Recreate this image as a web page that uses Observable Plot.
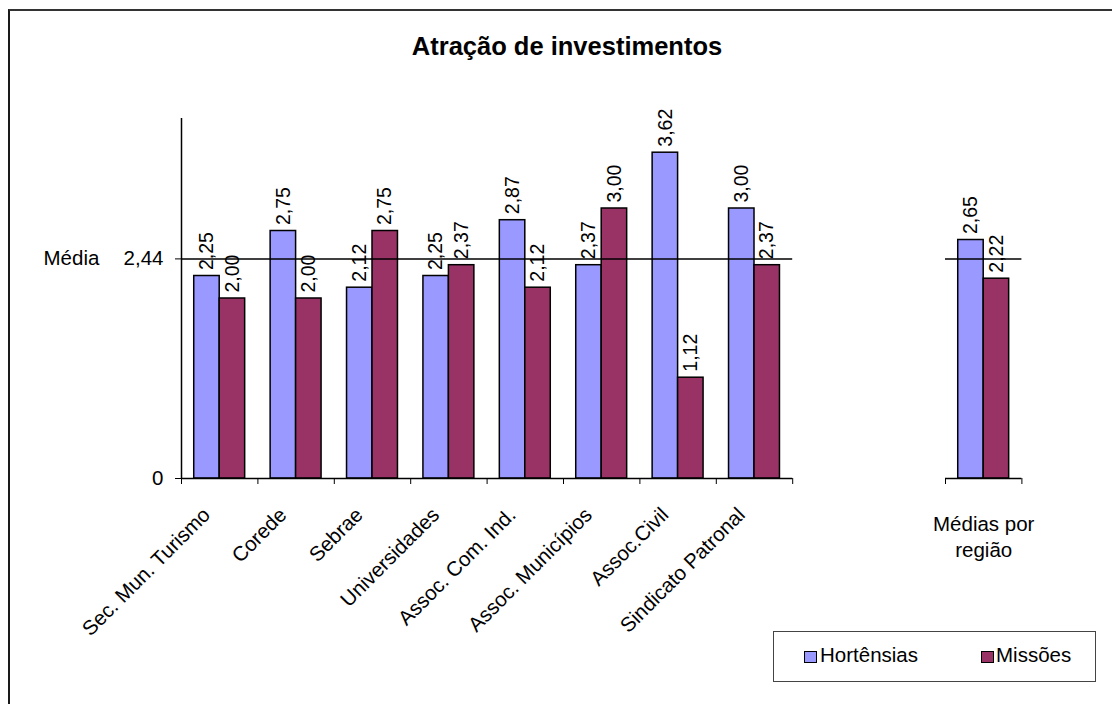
<!DOCTYPE html>
<html>
<head>
<meta charset="utf-8">
<script src="https://cdn.jsdelivr.net/npm/d3@7"></script>
<script src="https://cdn.jsdelivr.net/npm/@observablehq/plot@0.6"></script>
<style>
  html, body { margin: 0; padding: 0; background: #fff; }
  body { font-family: Arial, "Liberation Sans", sans-serif; color: #000; }
  #wrap { position: relative; width: 1112px; height: 704px; overflow: hidden; }
  #chart { position: absolute; left: 0; top: 0; }
  #frame { position: absolute; left: 8px; top: 9px; width: 1300px; height: 900px;
           border-top: 2px solid #333; border-left: 2px solid #1a1a1a; box-sizing: border-box; }
  #title { position: absolute; left: 0; top: 32px; width: 1134px; text-align: center;
           font-weight: bold; font-size: 25.5px; white-space: nowrap; }
  #legend { position: absolute; left: 773px; top: 631px; width: 323px; height: 51px;
            box-sizing: border-box; border: 1.5px solid #444; background: #fff; }
  .sw { position: absolute; width: 13px; height: 12px; box-sizing: border-box; border: 1px solid #000; }
  .lt { position: absolute; font-size: 20.5px; line-height: 20px; white-space: nowrap; }
</style>
</head>
<body>
<div id="wrap">
  <div id="chart"></div>
  <div id="frame"></div>
  <div id="title"></div>
  <div id="legend"></div>
</div>
<script>
// ---- data ----
const chartTitle = "Atração de investimentos";
const categories = ["Sec. Mun. Turismo", "Corede", "Sebrae", "Universidades", "Assoc. Com. Ind.",
                    "Assoc. Municípios", "Assoc.Civil", "Sindicato Patronal", "Médias por região"];
const hortensias = [2.25, 2.75, 2.12, 2.25, 2.87, 2.37, 3.62, 3.00, 2.65];
const missoes    = [2.00, 2.00, 2.75, 2.37, 2.12, 3.00, 1.12, 2.37, 2.22];
const seriesNames = ["Hortênsias", "Missões"];
const seriesColors = ["#9999ff", "#993366"];
const mediaLabel = "Média";
const media = 2.44;
const yTicks = [0, media];

// ---- layout ----
const W = 1112, H = 704;
const nLeft = 8;          // categories in the left panel
const gapSlots = 2;       // empty slots between panels
const nSlots = nLeft + gapSlots + 1;
const slotOf = i => i < nLeft ? i : i + gapSlots;
const fmt = v => v === 0 ? "0" : v.toFixed(2).replace(".", ",");

const rows = categories.flatMap((c, i) => seriesNames.map((s, k) => ({
  cat: c, i, slot: slotOf(i), series: s, k, value: (k === 0 ? hortensias : missoes)[i]
})));
const catRows = categories.map((c, i) => ({cat: c, i, slot: slotOf(i)}));
const panels = [{x1: 0, x2: nLeft}, {x1: nLeft + gapSlots, x2: nSlots}];
const boundaries = [...d3.range(0, nLeft + 1), nLeft + gapSlots, nSlots];

const chart = Plot.plot({
  width: W, height: H,
  marginLeft: 181, marginRight: W - 181 - nSlots * 76.4, marginTop: 118, marginBottom: 226,
  style: {fontFamily: 'Arial, "Liberation Sans", sans-serif', fontSize: "20.5px", background: "transparent", color: "#000"},
  x: {domain: [0, nSlots], ticks: boundaries, tickFormat: () => "", tickSize: 6, label: null},
  y: {domain: [0, 4], ticks: yTicks, tickFormat: fmt, tickSize: 6, tickPadding: 12, label: null},
  color: {domain: seriesNames, range: seriesColors},
  marks: [
    Plot.rect(rows, {
      x1: d => d.slot + 1/6 + d.k / 3,
      x2: d => d.slot + 1/6 + (d.k + 1) / 3,
      y1: 0, y2: "value", fill: "series", stroke: "#000", strokeWidth: 1.5
    }),
    Plot.ruleY(panels, {x1: "x1", x2: "x2", y: media, stroke: "#000", strokeWidth: 1.5}),
    Plot.ruleY(panels, {x1: "x1", x2: "x2", y: 0, stroke: "#000", strokeWidth: 1.5}),
    Plot.ruleX([0], {y1: 0, y2: 4, stroke: "#000", strokeWidth: 1.5}),
    Plot.text(rows, {
      x: d => d.slot + 1/3 + d.k / 3, y: "value", text: d => fmt(d.value),
      rotate: -90, textAnchor: "start", dy: -6, fill: "#000", fontSize: 19.5
    }),
    Plot.text([media], {y: d => d, text: () => mediaLabel, frameAnchor: "left", textAnchor: "start", dx: -138, fill: "#000"}),
    Plot.text(catRows.filter(d => d.i < nLeft), {
      x: d => d.slot + 0.5, y: 0, text: "cat", rotate: -45, textAnchor: "end", dx: -13, dy: 33, fill: "#000"
    }),
    Plot.text(catRows.filter(d => d.i >= nLeft), {
      x: d => d.slot + 0.5, y: 0, text: d => d.cat.replace(/ (\S+)$/, "\n$1"),
      lineAnchor: "top", lineHeight: 1.28, dy: 34, fill: "#000"
    })
  ]
});
document.getElementById("chart").appendChild(chart);
document.getElementById("title").textContent = chartTitle;

// legend
const leg = document.getElementById("legend");
const legPos = [{sw: 30, tx: 46}, {sw: 207, tx: 222}];
seriesNames.forEach((s, k) => {
  const sw = document.createElement("div");
  sw.className = "sw"; sw.style.left = legPos[k].sw + "px"; sw.style.top = "19px";
  sw.style.background = seriesColors[k];
  leg.appendChild(sw);
  const t = document.createElement("div");
  t.className = "lt"; t.style.left = legPos[k].tx + "px"; t.style.top = "13px";
  t.textContent = s;
  leg.appendChild(t);
});
</script>
</body>
</html>
